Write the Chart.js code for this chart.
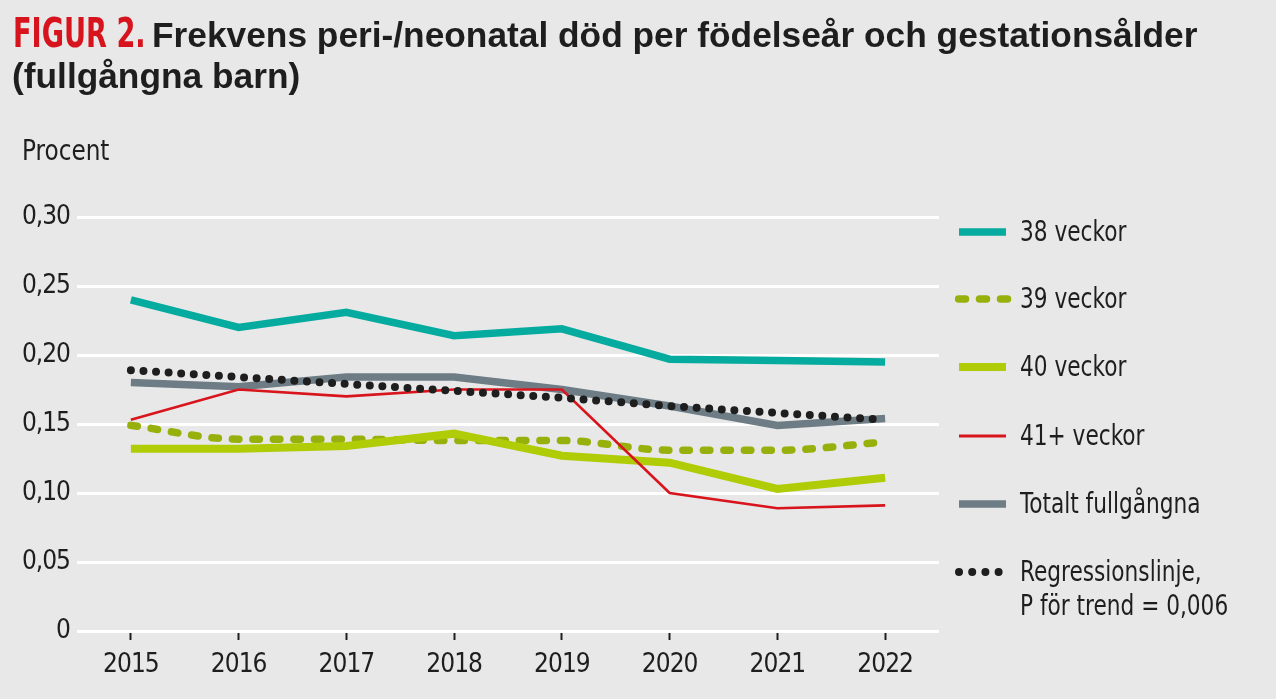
<!DOCTYPE html>
<html lang="sv">
<head>
<meta charset="utf-8">
<script src="https://cdn.jsdelivr.net/npm/chart.js@4.4.1/dist/chart.umd.min.js"></script>
<style>
  html, body { margin: 0; padding: 0; background: #e8e8e8; }
  #wrap { position: relative; width: 1276px; height: 699px; overflow: hidden; background: #e8e8e8; }
  #chartBox { position: absolute; left: 0; top: 0; width: 1276px; height: 699px; }
  .t { position: absolute; white-space: nowrap; line-height: 1; color: #1e1e1e; transform-origin: 0 0; }
  .narrow { font-family: "Liberation Sans Narrow", "DejaVu Sans Condensed", "Liberation Sans", sans-serif; }
  #fig { left: 13px; top: 13px; font-size: 40px; font-weight: bold; color: #d7141d; transform: scaleX(0.755); }
  #title1 { left: 152px; top: 17px; font-size: 35.3px; font-weight: bold; font-family: "Liberation Sans", Arial, sans-serif; }
  #title2 { left: 12px; top: 58px; font-size: 35.3px; font-weight: bold; font-family: "Liberation Sans", Arial, sans-serif; }
  #procent { left: 22px; top: 137px; font-size: 28px; transform: scaleX(0.92); }
  .leg { position: absolute; left: 955px; }
  .leg svg { position: absolute; left: 0; top: 0; }
  .leg .lab { position: absolute; left: 65px; top: -14px; font-size: 28px; line-height: 1; white-space: nowrap; color: #1e1e1e; transform: scaleX(0.86); transform-origin: 0 0; }
</style>
</head>
<body>
<div id="wrap">
  <div id="chartBox"><canvas id="c"></canvas></div>
  <div class="t narrow" id="fig">FIGUR 2.</div>
  <div class="t" id="title1">Frekvens peri-/neonatal död per födelseår och gestationsålder</div>
  <div class="t" id="title2">(fullgångna barn)</div>
  <div class="t narrow" id="procent">Procent</div>
  <div id="legend"></div>
</div>
<script>
// ---- Data ----
const years = ['2015', '2016', '2017', '2018', '2019', '2020', '2021', '2022'];
const v38 = [0.240, 0.220, 0.231, 0.214, 0.219, 0.197, 0.196, 0.195];
const v39 = [0.149, 0.139, 0.139, 0.138, 0.138, 0.131, 0.131, 0.137];
const v40 = [0.132, 0.132, 0.134, 0.143, 0.127, 0.122, 0.103, 0.111];
const v41 = [0.153, 0.175, 0.170, 0.175, 0.175, 0.100, 0.089, 0.091];
const vTotal = [0.180, 0.177, 0.184, 0.184, 0.175, 0.163, 0.149, 0.154];
const vRegression = [0.189, 0.184, 0.179, 0.174, 0.169, 0.163, 0.158, 0.153];
const seriesNames = ['38 veckor', '39 veckor', '40 veckor', '41+ veckor', 'Totalt fullgångna', 'Regressionslinje,'];
const regressionNote = 'P för trend = 0,006';
const yTicks = [0, 0.05, 0.10, 0.15, 0.20, 0.25, 0.30];

const C = {
  teal: '#06ab9f', dash: '#98b00c', green: '#b0cc06', red: '#d8141c', gray: '#6e7c85', dots: '#1e1e1e'
};
const narrow = '"Liberation Sans Narrow", "DejaVu Sans Condensed", "Liberation Sans", sans-serif';

const base = { fill: false, pointRadius: 0, pointHoverRadius: 0, tension: 0 };
const datasets = [
  Object.assign({}, base, { label: seriesNames[0], data: v38, borderColor: C.teal, borderWidth: 7.5, order: 1 }),
  Object.assign({}, base, { label: seriesNames[1], data: v39, borderColor: C.dash, borderWidth: 7.5, borderDash: [6.5, 14], borderCapStyle: 'round', cubicInterpolationMode: 'monotone', order: 5 }),
  Object.assign({}, base, { label: seriesNames[2], data: v40, borderColor: C.green, borderWidth: 8, order: 4 }),
  Object.assign({}, base, { label: seriesNames[3], data: v41, borderColor: C.red, borderWidth: 2.6, order: 3 }),
  Object.assign({}, base, { label: seriesNames[4], data: vTotal, borderColor: C.gray, borderWidth: 7.5, order: 6 }),
  Object.assign({}, base, { label: seriesNames[5], data: vRegression, borderColor: C.dots, borderWidth: 8, borderDash: [0, 12.6], borderCapStyle: 'round', order: 2 })
];

// tighter letter spacing for tick labels (narrow face look)
const tightText = {
  id: 'tightText',
  beforeDraw(chart) { if ('letterSpacing' in chart.ctx) chart.ctx.letterSpacing = '-1px'; }
};

new Chart(document.getElementById('c'), {
  type: 'line',
  data: { labels: years, datasets },
  plugins: [tightText],
  options: {
    responsive: true,
    maintainAspectRatio: false,
    animation: false,
    events: [],
    layout: { padding: { top: 217, right: 337, bottom: 18, left: 0 } },
    plugins: { legend: { display: false }, tooltip: { enabled: false }, title: { display: false } },
    scales: {
      x: {
        offset: true,
        border: { display: false },
        grid: { display: true, drawOnChartArea: false, drawTicks: true, tickLength: 9, tickWidth: 2, tickColor: '#1e1e1e', offset: false },
        ticks: { color: '#1e1e1e', font: { family: narrow, size: 26 }, padding: 10, maxRotation: 0 },
        afterFit: (s) => { s.height = 50; }
      },
      y: {
        min: 0, max: 0.30,
        border: { display: false },
        grid: { color: '#ffffff', lineWidth: 3, drawTicks: false },
        afterBuildTicks: (s) => { s.ticks = yTicks.map(v => ({ value: v })); },
        ticks: {
          color: '#1e1e1e', font: { family: narrow, size: 26 }, padding: 7,
          callback: (v) => v === 0 ? '0' : v.toFixed(2).replace('.', ',')
        },
        afterFit: (s) => { s.width = 77; }
      }
    }
  }
});

// ---- HTML legend ----
const legend = document.getElementById('legend');
const rows = [
  { y: 232, name: seriesNames[0], svg: `<line x1="4" y1="0" x2="51" y2="0" stroke="${C.teal}" stroke-width="7.5"/>` },
  { y: 299, name: seriesNames[1], svg: `<line x1="3.5" y1="0" x2="54" y2="0" stroke="${C.dash}" stroke-width="7.5" stroke-linecap="round" stroke-dasharray="7 14"/>` },
  { y: 367, name: seriesNames[2], svg: `<line x1="4" y1="0" x2="51" y2="0" stroke="${C.green}" stroke-width="8"/>` },
  { y: 436, name: seriesNames[3], svg: `<line x1="4" y1="0" x2="51" y2="0" stroke="${C.red}" stroke-width="3"/>` },
  { y: 504, name: seriesNames[4], svg: `<line x1="4" y1="0" x2="51" y2="0" stroke="${C.gray}" stroke-width="7.5"/>` },
  { y: 572, name: seriesNames[5], note: regressionNote, svg: `<line x1="4" y1="0" x2="50" y2="0" stroke="${C.dots}" stroke-width="8" stroke-linecap="round" stroke-dasharray="0 13.2"/>` }
];
rows.forEach(r => {
  const d = document.createElement('div');
  d.className = 'leg';
  d.style.top = r.y + 'px';
  d.innerHTML = `<svg width="60" height="20" viewBox="0 -10 60 20" style="top:-10px">${r.svg}</svg>` +
    `<div class="lab narrow">${r.name}</div>` +
    (r.note ? `<div class="lab narrow" style="top:20px">${r.note}</div>` : '');
  legend.appendChild(d);
});
</script>
</body>
</html>
